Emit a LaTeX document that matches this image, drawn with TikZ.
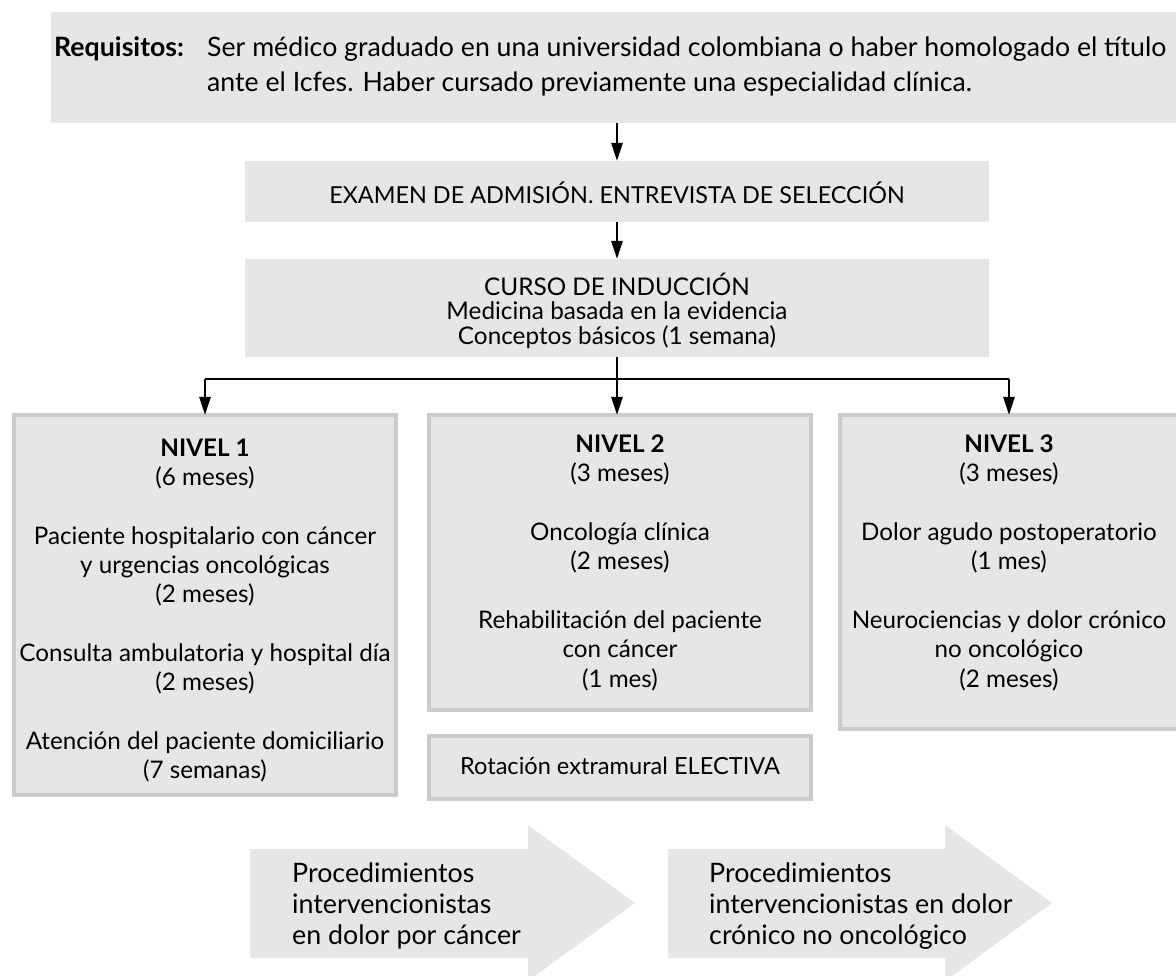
\documentclass[tikz,border=0pt]{standalone}
\usepackage{fontspec}
\setmainfont{Lato}
\usetikzlibrary{arrows.meta}
\definecolor{boxfill}{HTML}{E6E6E6}
\definecolor{boxline}{HTML}{CBCBCB}
\begin{document}
\begin{tikzpicture}[x=1pt,y=-1pt,
  flat/.style={fill=boxfill, draw=none, inner sep=0pt, outer sep=0pt},
  lvl/.style={fill=boxfill, draw=boxline, line width=4pt, inner sep=0pt, outer sep=0pt},
  lvltxt/.style={inner sep=0pt, align=center, anchor=base, font=\fontsize{24.2}{29.3}\selectfont},
  reqtxt/.style={inner sep=0pt, anchor=base west, font=\fontsize{26.7}{33}\selectfont},
  arrtxt/.style={inner sep=0pt, align=left, anchor=base west, font=\fontsize{26.8}{31}\selectfont},
  conn/.style={line width=2.4pt},
  arr/.style={conn, -{Triangle[length=18pt,width=11pt]}},
  bigarrow/.style={fill=boxfill, draw=none}
]
\useasboundingbox (0,0) rectangle (1176,976);

% top boxes
\node[flat, minimum width=1125, minimum height=111] (req) at (613.5,67.5) {};
\node[reqtxt, font=\fontsize{26.7}{33}\selectfont\bfseries] (reqlab) at (54,57) {Requisitos:};
\node[reqtxt] (req1) at (207,57) {Ser médico graduado en una universidad colombiana o haber homologado el título};
\node[reqtxt] (req2) at (207,92) {ante el Icfes. Haber cursado previamente una especialidad clínica.};

\node[flat, minimum width=744, minimum height=61] (exam) at (617,191.5) {};
\node[lvltxt, font=\fontsize{23.4}{29}\selectfont] (examt) at (617,203.5) {EXAMEN DE ADMISIÓN. ENTREVISTA DE SELECCIÓN};

\node[flat, minimum width=744, minimum height=98] (curso) at (617,308) {};
\node[lvltxt, font=\fontsize{24.3}{24.5}\selectfont] (cursot) at (617,344.5)
  {CURSO DE INDUCCIÓN\\Medicina basada en la evidencia\\Conceptos básicos (1 semana)};

% level boxes
\node[lvl, minimum width=382, minimum height=380] (n1) at (205,605) {};
\node[lvl, minimum width=382, minimum height=295] (n2) at (620,562.5) {};
\node[lvl, minimum width=338, minimum height=314] (n3) at (1009,572) {};
\node[lvl, minimum width=382, minimum height=63] (rot) at (620,767.5) {};

\node[lvltxt] (n1t) at (205,778.5) {\textbf{NIVEL 1}\\(6 meses)\\[29.3pt]
  Paciente hospitalario con cáncer\\y urgencias oncológicas\\(2 meses)\\[29.3pt]
  Consulta ambulatoria y hospital día\\(2 meses)\\[29.3pt]
  Atención del paciente domiciliario\\(7 semanas)};
\node[lvltxt] (n2t) at (620,687) {\textbf{NIVEL 2}\\(3 meses)\\[29.3pt]
  Oncología clínica\\(2 meses)\\[29.3pt]
  Rehabilitación del paciente\\con cáncer\\(1 mes)};
\node[lvltxt] (n3t) at (1009,687) {\textbf{NIVEL 3}\\(3 meses)\\[29.3pt]
  Dolor agudo postoperatorio\\(1 mes)\\[29.3pt]
  Neurociencias y dolor crónico\\no oncológico\\(2 meses)};
\node[lvltxt, font=\fontsize{23.6}{29}\selectfont] (rott) at (620,774) {Rotación extramural ELECTIVA};

% connectors
\coordinate (hub) at (617,379);
\draw[arr] (exam.north |- req.south) -- (exam.north);
\draw[arr] (exam.south) -- (curso.north);
\draw[conn] (n1.north |- hub) -- (n3.north |- hub);
\draw[arr] (curso.south) -- (curso.south |- n2.north);
\draw[arr] (n1.north |- hub) -- (n1.north);
\draw[arr] (n3.north |- hub) -- (n3.north);

% bottom arrows
\fill[bigarrow] (250,849) -- (528,849) -- (528,825) -- (635,903) -- (528,981) -- (528,958) -- (250,958) -- cycle;
\fill[bigarrow] (668,849) -- (945,849) -- (945,825) -- (1052,903) -- (945,981) -- (945,958) -- (668,958) -- cycle;
\node[arrtxt] (a1t) at (292,944) {Procedimientos\\intervencionistas\\en dolor por cáncer};
\node[arrtxt] (a2t) at (709,944) {Procedimientos\\intervencionistas en dolor\\crónico no oncológico};
\end{tikzpicture}
\end{document}
